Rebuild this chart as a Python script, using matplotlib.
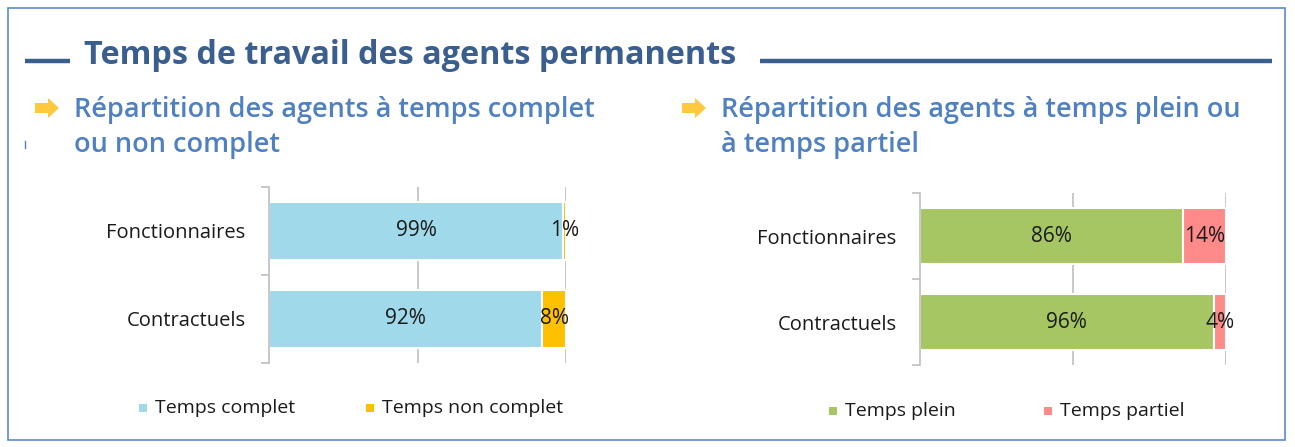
import matplotlib
matplotlib.use("Agg")
import matplotlib.pyplot as plt
from matplotlib.patches import Rectangle, Polygon
from matplotlib.lines import Line2D
import numpy as np

W, H = 1295, 447
DPI = 100

# ---- data ----
categories = ["Fonctionnaires", "Contractuels"]
left_series = ["Temps complet", "Temps non complet"]
left_complet = [0.99, 0.92]
left_non_complet = [0.01, 0.08]
right_series = ["Temps plein", "Temps partiel"]
right_plein = [0.86, 0.96]
right_partiel = [0.14, 0.04]

main_title = "Temps de travail des agents permanents"
left_title = ["Répartition des agents à temps complet", "ou non complet"]
right_title = ["Répartition des agents à temps plein ou", "à temps partiel"]

col_blue = "#9FD9EA"
col_yellow = "#FFC000"
col_green = "#A6C664"
col_pink = "#FF8A8A"
title_col = "#3A5E8E"
sub_col = "#4E80C2"
arrow_col = "#FFC83D"
axis_col = "#BFBFBF"
txt_col = "#1A1A1A"

fig = plt.figure(figsize=(W / DPI, H / DPI), dpi=DPI)
fig.patch.set_facecolor("white")

def fx(px):
    return px / W

def fy(py):
    return 1 - py / H

# outer border
fig.add_artist(Rectangle((fx(8), fy(440)), fx(1285) - fx(8), fy(8) - fy(440),
                         transform=fig.transFigure, fill=False,
                         edgecolor="#5B8BC9", linewidth=1.2))

# title lines
fig.add_artist(Line2D([fx(25), fx(70)], [fy(61), fy(61)], transform=fig.transFigure,
                      color=title_col, linewidth=3.2, solid_capstyle="butt"))
fig.add_artist(Line2D([fx(760), fx(1272)], [fy(61), fy(61)], transform=fig.transFigure,
                      color=title_col, linewidth=3.2, solid_capstyle="butt"))
fig.text(fx(84), fy(64), main_title, fontsize=23.3, fontweight="bold",
         family="Open Sans", color=title_col, ha="left", va="baseline")

# small mark
fig.add_artist(Line2D([fx(25), fx(25)], [fy(141), fy(148)], transform=fig.transFigure,
                      color=sub_col, linewidth=1))

def arrow(xp, yp):
    pts = [(xp, yp - 5), (xp + 13, yp - 5), (xp + 13, yp - 10), (xp + 24, yp),
           (xp + 13, yp + 10), (xp + 13, yp + 5), (xp, yp + 5)]
    fig.add_artist(Polygon([(fx(a), fy(b)) for a, b in pts], closed=True,
                           transform=fig.transFigure, facecolor=arrow_col,
                           edgecolor="none"))

arrow(35, 108)
arrow(682, 108)
for xt, lines in [(74, left_title), (721, right_title)]:
    for k, line in enumerate(lines):
        fig.text(fx(xt), fy(117 + 35 * k), line, fontsize=19.5, fontweight="semibold",
                 family="Open Sans", color=sub_col, ha="left", va="baseline")

def make_chart(x0, x1, y0, y1, v1, v2, c1, c2, names, legpos, legy):
    ax = fig.add_axes([fx(x0), fy(y1), fx(x1) - fx(x0), fy(y0) - fy(y1)])
    y = np.arange(len(categories))
    h = 0.65
    ax.barh(y, v1, height=h, color=c1, edgecolor="white", linewidth=1.5, label=names[0])
    ax.barh(y, v2, left=v1, height=h, color=c2, edgecolor="white", linewidth=1.5, label=names[1])
    for i in range(len(categories)):
        ax.text(v1[i] / 2, y[i], f"{v1[i]*100:.0f}%", ha="center", va="center",
                fontsize=15, family="Open Sans", color=txt_col)
        ax.text(v1[i] + v2[i] / 2, y[i], f"{v2[i]*100:.0f}%", ha="center", va="center",
                fontsize=15, family="Open Sans", color=txt_col)
    ax.set_xlim(0, 1)
    ax.set_ylim(1.5, -0.5)
    ax.set_xticks([0.5, 1.0])
    ax.xaxis.grid(True, color=axis_col, linewidth=1.2)
    ax.set_axisbelow(True)
    ax.tick_params(axis="x", length=0, labelbottom=False)
    ax.set_yticks(y)
    ax.set_yticklabels(categories, fontsize=14.5, family="Open Sans", color=txt_col)
    ax.tick_params(axis="y", length=0, pad=17)
    ax.set_yticks([-0.5, 0.5, 1.5], minor=True)
    ax.tick_params(axis="y", which="minor", length=6, color=axis_col, width=1.2)
    for s in ["top", "right", "bottom"]:
        ax.spines[s].set_visible(False)
    ax.spines["left"].set_color(axis_col)
    ax.spines["left"].set_linewidth(1.2)
    # legend
    for (mx, tx), c, n in zip(legpos, [c1, c2], names):
        fig.add_artist(Rectangle((fx(mx), fy(legy + 4)), fx(8), fy(0) - fy(8),
                                 transform=fig.transFigure, facecolor=c, edgecolor="none"))
        fig.text(fx(tx), fy(legy), n, fontsize=14, family="Open Sans",
                 color=txt_col, ha="left", va="center")
    return ax

make_chart(269, 566, 187, 363, left_complet, left_non_complet, col_blue, col_yellow,
           left_series, [(139, 155), (366, 382)], 408)
make_chart(920, 1226, 193, 365, right_plein, right_partiel, col_green, col_pink,
           right_series, [(829, 845), (1044, 1060)], 411)

fig.savefig("out.png", dpi=DPI)
